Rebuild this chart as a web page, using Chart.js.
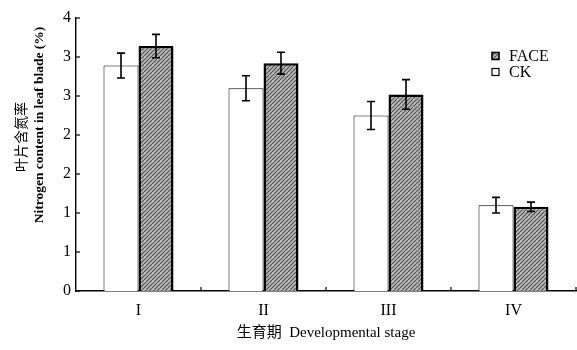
<!DOCTYPE html>
<html>
<head>
<meta charset="utf-8">
<script src="https://cdn.jsdelivr.net/npm/chart.js@4/dist/chart.umd.min.js"></script>
<style>
html,body{margin:0;padding:0;background:#fff;}
#wrap{width:577px;height:350px;}
</style>
</head>
<body>
<div id="wrap"><canvas id="c" width="577" height="350"></canvas></div>
<script>
const categories = ['I', 'II', 'III', 'IV'];
const ckValues = [2.89, 2.60, 2.25, 1.10];
const ckErrors = [0.16, 0.16, 0.18, 0.10];
const faceValues = [3.14, 2.92, 2.52, 1.08];
const faceErrors = [0.15, 0.14, 0.19, 0.06];
const yTickLabels = ['0', '1', '1', '2', '2', '3', '3', '4'];
const yTitleLines = ['叶片含氮率', 'Nitrogen content in leaf blade (%)'];
const xTitle = '生育期  Developmental stage';
const legendItems = ['FACE', 'CK'];

const SERIF = '"Liberation Serif", "DejaVu Serif", serif';
const CJK = '"Noto Sans CJK SC", sans-serif';

function makePattern() {
  const p = document.createElement('canvas');
  p.width = 8; p.height = 8;
  const g = p.getContext('2d');
  g.fillStyle = '#b4b4b4';
  g.fillRect(0, 0, 8, 8);
  g.strokeStyle = '#555';
  g.lineWidth = 1.1;
  for (let k = -8; k <= 16; k += 4) {
    g.beginPath();
    g.moveTo(k, 8);
    g.lineTo(k + 8, 0);
    g.stroke();
  }
  g.fillStyle = '#e0e0e0';
  g.fillRect(1, 1, 1, 1);
  g.fillRect(5, 3, 1, 1);
  return document.getElementById('c').getContext('2d').createPattern(p, 'repeat');
}
const facePattern = makePattern();

const errors = [ckErrors, faceErrors];

const extras = {
  id: 'extras',
  afterDatasetsDraw(chart) {
    const ctx = chart.ctx;
    const ys = chart.scales.y, xs = chart.scales.x;
    ctx.save();
    // error bars
    ctx.strokeStyle = '#000';
    ctx.lineWidth = 1.6;
    chart.data.datasets.forEach((ds, i) => {
      const meta = chart.getDatasetMeta(i);
      meta.data.forEach((bar, j) => {
        const v = ds.data[j], e = errors[i][j];
        const yt = ys.getPixelForValue(v + e), yb = ys.getPixelForValue(v - e);
        const x = bar.x;
        ctx.beginPath();
        ctx.moveTo(x, yt); ctx.lineTo(x, yb);
        ctx.moveTo(x - 4, yt); ctx.lineTo(x + 4, yt);
        ctx.moveTo(x - 4, yb); ctx.lineTo(x + 4, yb);
        ctx.stroke();
      });
    });
    // inner y ticks
    ctx.lineWidth = 1.2;
    ys.ticks.forEach(t => {
      const py = ys.getPixelForValue(t.value);
      ctx.beginPath();
      ctx.moveTo(ys.right, py); ctx.lineTo(ys.right + 4, py);
      ctx.stroke();
    });
    // inner x ticks at category boundaries
    for (let j = 0; j < categories.length; j++) {
      const half = (xs.getPixelForValue(1) - xs.getPixelForValue(0)) / 2;
      const px = xs.getPixelForValue(j) + half;
      ctx.beginPath();
      ctx.moveTo(px, xs.top); ctx.lineTo(px, xs.top - 4);
      ctx.stroke();
    }
    // y title
    ctx.fillStyle = '#000';
    ctx.textAlign = 'center';
    ctx.textBaseline = 'middle';
    ctx.translate(21, 137);
    ctx.rotate(-Math.PI / 2);
    ctx.font = '14px ' + CJK;
    ctx.fillText(yTitleLines[0], 0, 0);
    ctx.restore();
    ctx.save();
    ctx.fillStyle = '#000';
    ctx.textAlign = 'center';
    ctx.textBaseline = 'middle';
    ctx.translate(40, 125);
    ctx.rotate(-Math.PI / 2);
    ctx.font = 'bold 13.5px ' + SERIF;
    ctx.fillText(yTitleLines[1], 0, 0);
    ctx.restore();
    // legend
    ctx.save();
    ctx.font = '16px ' + SERIF;
    ctx.textBaseline = 'middle';
    ctx.textAlign = 'left';
    const fills = [facePattern, '#fff'];
    legendItems.forEach((name, k) => {
      const cy = 56 + k * 16;
      ctx.fillStyle = fills[k];
      ctx.fillRect(492, cy - 3.5, 7, 7);
      ctx.strokeStyle = '#000';
      ctx.lineWidth = k === 0 ? 1.6 : 1.2;
      ctx.strokeRect(492, cy - 3.5, 7, 7);
      ctx.fillStyle = '#000';
      ctx.fillText(name, 509, cy + 1);
    });
    ctx.restore();
  }
};

new Chart(document.getElementById('c'), {
  type: 'bar',
  data: {
    labels: categories,
    datasets: [
      { label: 'CK', data: ckValues, backgroundColor: '#fff', borderColor: '#000', borderWidth: 1,
        categoryPercentage: 0.56, barPercentage: 1.0 },
      { label: 'FACE', data: faceValues, backgroundColor: facePattern, borderColor: '#000', borderWidth: 2.5,
        categoryPercentage: 0.56, barPercentage: 1.0 }
    ]
  },
  options: {
    responsive: false,
    animation: false,
    devicePixelRatio: 1,
    layout: { padding: { left: 0, right: 1, top: 18, bottom: 0 } },
    plugins: { legend: { display: false }, tooltip: { enabled: false } },
    scales: {
      x: {
        grid: { display: false, drawTicks: false },
        border: { display: true, color: '#000', width: 1.6 },
        ticks: { color: '#000', font: { family: SERIF, size: 16 }, padding: 10 },
        title: { display: true, text: xTitle, color: '#000',
                 font: { family: '"Liberation Serif", "Noto Sans CJK SC", serif', size: 15 }, padding: { top: 2, bottom: 8 } },
        afterFit: s => { s.height = 59; }
      },
      y: {
        min: 0, max: 3.5,
        grid: { display: false, drawTicks: false },
        border: { display: true, color: '#000', width: 1.4 },
        ticks: { stepSize: 0.5, color: '#000', font: { family: SERIF, size: 16 }, padding: 5,
                 callback: (v, i) => yTickLabels[i] },
        afterFit: s => { s.width = 76; }
      }
    }
  },
  plugins: [extras]
});
</script>
</body>
</html>
